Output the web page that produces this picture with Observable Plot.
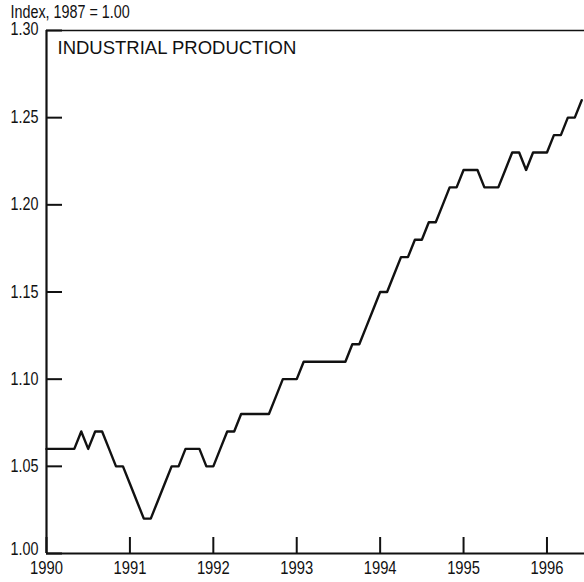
<!DOCTYPE html>
<html><head><meta charset="utf-8">
<script src="https://cdn.jsdelivr.net/npm/d3@7"></script>
<script src="https://cdn.jsdelivr.net/npm/@observablehq/plot@0.6"></script>
<style>body{margin:0;background:#fff} svg{display:block}</style>
</head><body><div id="chart"></div>
<script>
const startYear = 1990;
// Monthly index values, Jan 1990 .. Jun 1996
const values = [
  1.06,1.06,1.06,1.06,1.06,1.07,1.06,1.07,1.07,1.06,1.05,1.05,
  1.04,1.03,1.02,1.02,1.03,1.04,1.05,1.05,1.06,1.06,1.06,1.05,
  1.05,1.06,1.07,1.07,1.08,1.08,1.08,1.08,1.08,1.09,1.10,1.10,
  1.10,1.11,1.11,1.11,1.11,1.11,1.11,1.11,1.12,1.12,1.13,1.14,
  1.15,1.15,1.16,1.17,1.17,1.18,1.18,1.19,1.19,1.20,1.21,1.21,
  1.22,1.22,1.22,1.21,1.21,1.21,1.22,1.23,1.23,1.22,1.23,1.23,
  1.23,1.24,1.24,1.25,1.25,1.26
];
const yearTicks = [1990,1991,1992,1993,1994,1995,1996];
const yTicks = [1.00,1.05,1.10,1.15,1.20,1.25,1.30];
const yInnerTicks = [1.05,1.10,1.15,1.20,1.25];
const yBottomTick = [1.00];
const yTopTick = [1.30];
const title = "INDUSTRIAL PRODUCTION";
const unitLabel = "Index, 1987 = 1.00";

const data = values.map((v, i) => ({t: startYear + i / 12, v}));
const font = "'Liberation Sans', Arial, Helvetica, sans-serif";

const chart = Plot.plot({
  width: 584, height: 582,
  marginLeft: 46, marginRight: 0, marginTop: 30, marginBottom: 29,
  style: {fontFamily: font, fontSize: "17.5px", color: "#111", background: "#fff", overflow: "visible"},
  x: {domain: [1990, 1996.45], label: null},
  y: {domain: [1, 1.3], label: null},
  marks: [
    Plot.tickY(yTicks, {y: d => d, insetRight: 522, stroke: "#111", strokeWidth: 2}),
    Plot.tickX(yearTicks, {x: d => d, insetTop: 507, stroke: "#111", strokeWidth: 2}),
    Plot.axisY({ticks: yInnerTicks, tickSize: 0, tickPadding: 8, tickFormat: ".2f", fontSize: 17.5, label: null}),
    Plot.axisY({ticks: yBottomTick, tickSize: 0, tickPadding: 8, tickFormat: ".2f", fontSize: 17.5, dy: -4, label: null}),
    Plot.axisY({ticks: yTopTick, tickSize: 0, tickPadding: 8, tickFormat: ".2f", fontSize: 17.5, dy: -1, label: null}),
    Plot.axisX({ticks: yearTicks, tickSize: 0, tickPadding: 8, tickFormat: "d", fontSize: 18, label: null}),
    Plot.ruleY([1.3], {stroke: "#111", strokeWidth: 1.5}),
    Plot.ruleX([1990], {stroke: "#111", strokeWidth: 2.2}),
    Plot.ruleY([1.0], {stroke: "#111", strokeWidth: 2.2}),
    Plot.line(data, {x: "t", y: "v", stroke: "#111", strokeWidth: 2.4, strokeLinejoin: "round"}),
    Plot.text([title], {text: d => d, frameAnchor: "top-left", dx: 11, dy: 10, textAnchor: "start", lineAnchor: "top",
      fontSize: 18.5, fill: "#111"}),
    Plot.text([unitLabel], {text: d => d, frameAnchor: "top-left", dx: -36, dy: -25, textAnchor: "start", lineAnchor: "top",
      fontSize: 17.5, fill: "#111"})
  ]
});
document.getElementById("chart").append(chart);
// condensed look for axis and unit labels (title stays normal width)
chart.querySelectorAll("text").forEach(t => {
  if (t.textContent === title) return;
  const L = t.getComputedTextLength();
  if (L > 0) {
    t.setAttribute("textLength", (L * 0.82).toFixed(2));
    t.setAttribute("lengthAdjust", "spacingAndGlyphs");
  }
});
</script>
</body></html>
